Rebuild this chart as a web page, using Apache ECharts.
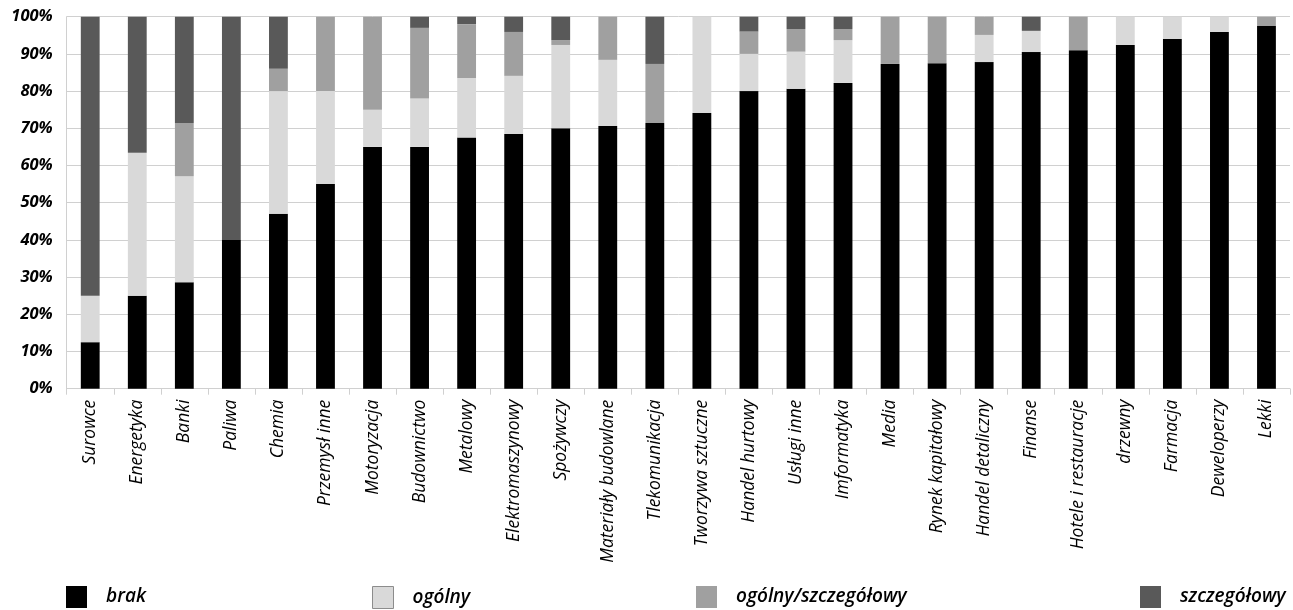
<!DOCTYPE html>
<html>
<head>
<meta charset="utf-8">
<script src="https://cdn.jsdelivr.net/npm/echarts@6/dist/echarts.min.js"></script>
<style>
  html, body { margin: 0; padding: 0; background: #fff; }
  #chart { width: 1293px; height: 610px; }
</style>
</head>
<body>
<div id="chart"></div>
<script>
// Sectors, ordered by share of "brak"
const categories = ['Surowce', 'Energetyka', 'Banki', 'Paliwa', 'Chemia', 'Przemysł inne', 'Motoryzacja',
  'Budownictwo', 'Metalowy', 'Elektromaszynowy', 'Spożywczy', 'Materiały budowlane', 'Tlekomunikacja',
  'Tworzywa sztuczne', 'Handel hurtowy', 'Usługi inne', 'Imformatyka', 'Media', 'Rynek kapitałowy',
  'Handel detaliczny', 'Finanse', 'Hotele i restauracje', 'drzewny', 'Farmacja', 'Deweloperzy', 'Lekki'];

// Shares in percent
const brak = [12.5, 25, 28.6, 40, 47, 55, 65, 65, 67.5, 68.5, 70, 70.6, 71.4,
  74.1, 80, 80.6, 82.2, 87.3, 87.5, 87.8, 90.5, 91, 92.4, 94, 95.9, 97.5];
const ogolny = [12.5, 38.4, 28.5, 0, 33, 25, 10, 13, 16, 15.6, 22.4, 17.8, 0,
  25.9, 10, 10, 11.5, 0, 0, 7.3, 5.7, 0, 7.6, 6, 4.1, 0];
const ogolnySzczegolowy = [0, 0, 14.3, 0, 6, 20, 25, 19, 14.5, 11.8, 1.3, 11.6, 15.9,
  0, 6, 6.1, 3, 12.7, 12.5, 4.9, 0, 9, 0, 0, 0, 2.5];
const szczegolowy = [75, 36.6, 28.6, 60, 14, 0, 0, 3, 2, 4.1, 6.3, 0, 12.7,
  0, 4, 3.3, 3.3, 0, 0, 0, 3.8, 0, 0, 0, 0, 0];

const yTicks = [0, 10, 20, 30, 40, 50, 60, 70, 80, 90, 100];

const seriesNames = ['brak', 'ogólny', 'ogólny/szczegółowy', 'szczegółowy'];
const seriesData = [brak, ogolny, ogolnySzczegolowy, szczegolowy];
const seriesColors = ['#000000', '#d9d9d9', '#a0a0a0', '#595959'];

const FONT = '"Open Sans", "DejaVu Sans", sans-serif';
const legendLeft = [66, 372, 696, 1140];

const chart = echarts.init(document.getElementById('chart'), null, { renderer: 'canvas' });

chart.setOption({
  animation: false,
  backgroundColor: '#ffffff',
  grid: { left: 66.7, right: 3, top: 16.7, bottom: 221.3, containLabel: false },
  legend: seriesNames.map((name, i) => ({
    data: [name],
    left: legendLeft[i],
    top: 586,
    padding: 0,
    itemWidth: 21,
    itemHeight: 22,
    icon: 'rect',
    itemStyle: i === 1 ? { borderColor: '#8c8c8c', borderWidth: 1 } : {},
    textStyle: {
      fontFamily: FONT, fontStyle: 'italic', fontWeight: 600, fontSize: 19, color: '#000',
      padding: [0, 0, 0, 14]
    }
  })),
  xAxis: {
    type: 'category',
    data: categories,
    axisLine: { show: true, lineStyle: { color: '#d0d0d0', width: 1 } },
    axisTick: { show: true, length: 6, lineStyle: { color: '#d0d0d0' } },
    axisLabel: {
      interval: 0, rotate: 90, margin: 11,
      fontFamily: FONT, fontStyle: 'italic', fontWeight: 500, fontSize: 17.5, color: '#000'
    }
  },
  yAxis: {
    type: 'value',
    min: 0, max: 100, interval: 10,
    axisLine: { show: true, lineStyle: { color: '#d0d0d0', width: 1 } },
    axisTick: { show: false },
    splitLine: { show: true, lineStyle: { color: '#d0d0d0', width: 1 } },
    axisLabel: {
      margin: 14,
      fontFamily: FONT, fontStyle: 'italic', fontWeight: 'bold', fontSize: 16.5, color: '#000',
      customValues: yTicks,
      formatter: v => v + '%'
    }
  },
  series: seriesNames.map((name, i) => ({
    name,
    type: 'bar',
    stack: 'total',
    barWidth: '40%',
    data: seriesData[i],
    itemStyle: { color: seriesColors[i] }
  }))
});
</script>
</body>
</html>
